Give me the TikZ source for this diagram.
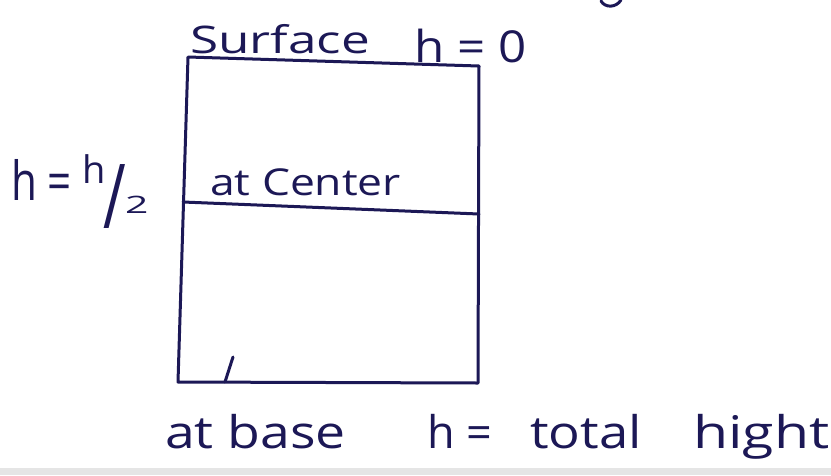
\documentclass[tikz,border=0pt]{standalone}
\usepackage{graphicx}
\usepackage{fontspec}
\setmainfont{Open Sans}
\definecolor{ink}{RGB}{28,24,86}
\begin{document}
\begin{tikzpicture}[x=1pt,y=-1pt,
  pen/.style={draw=ink, line width=3pt, line cap=round, line join=round},
  lbl/.style={text=ink, font=\fontsize{38}{44}\selectfont, inner sep=0pt, anchor=base west},
  big/.style={lbl, font=\fontsize{45}{52}\selectfont}]
\useasboundingbox (0,0) rectangle (831,475);
\fill[white] (0,0) rectangle (831,475);
\fill[gray!20] (0,468) rectangle (831,475);
\coordinate (tl) at (188,57);
\coordinate (tr) at (479,66);
\coordinate (br) at (478,383);
\coordinate (bl) at (178,382);
\coordinate (ml) at (183,202);
\coordinate (mr) at (479,214);
\coordinate (ta) at (225,382);
\coordinate (tb) at (233,357);
\coordinate (aa) at (601,1);
\coordinate (ab) at (621,0);
\draw[pen] (tl) -- (tr) -- (br) -- (bl) -- cycle;
\draw[pen] (ml) -- (mr);
\draw[pen] (ta) -- (tb);
\draw[pen] (aa) .. controls (605,8) and (616,8) .. (ab);
% top labels
\node[lbl] (surf) at (190,53) {\scalebox{1.35}[1]{Surface}};
\node[lbl, font=\fontsize{44}{50}\selectfont] (hzero) at (414,62) {\scalebox{1.12}[1]{h = 0}};
% h = h/2
\node[lbl, font=\fontsize{54}{60}\selectfont] (heqh) at (11,200) {\scalebox{0.78}[1]{h =}};
\node[lbl] (hnum) at (82,183) {h};
\node[lbl, font=\fontsize{56}{64}\selectfont] (slash) at (103,228) {\scalebox{1.1}[1.6]{/}};
\node[lbl, font=\fontsize{24}{28}\selectfont] (hden) at (125,213) {\scalebox{1.7}[1]{2}};
% middle label
\node[lbl, font=\fontsize{37}{42}\selectfont] (cent) at (210,195) {\scalebox{1.2}[1]{at Center}};
% bottom labels
\node[big] (base) at (165,448) {\scalebox{1.19}[1]{at base}};
\node[big] (heq) at (427,448) {h =};
\node[big] (total) at (530,448) {\scalebox{1.17}[1]{total}};
\node[big] (hight) at (693,448) {\scalebox{1.27}[1]{hight}};
\end{tikzpicture}
\end{document}
